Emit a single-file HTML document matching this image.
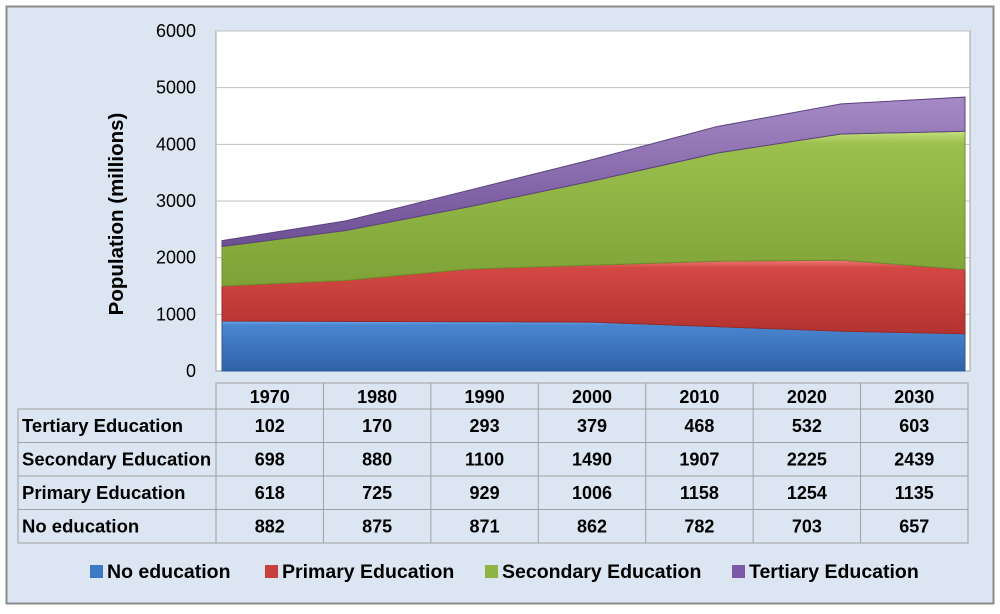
<!DOCTYPE html>
<html><head><meta charset="utf-8"><style>
body{margin:0;width:1000px;height:609px;background:#fff;font-family:"Liberation Sans",sans-serif;}
svg text{font-family:"Liberation Sans",sans-serif;}
</style></head><body>
<svg width="1000" height="609">
<defs>
<linearGradient id="gBlue" x1="0" y1="0" x2="0" y2="1"><stop offset="0" stop-color="#6aaaf0"/><stop offset="0.08" stop-color="#4a86d0"/><stop offset="1" stop-color="#2f62a8"/></linearGradient>
<linearGradient id="gRed" x1="0" y1="0" x2="0" y2="1"><stop offset="0" stop-color="#f27a78"/><stop offset="0.1" stop-color="#d44844"/><stop offset="1" stop-color="#b33230"/></linearGradient>
<linearGradient id="gGreen" x1="0" y1="0" x2="0" y2="1"><stop offset="0" stop-color="#c4e07c"/><stop offset="0.08" stop-color="#9cc04e"/><stop offset="1" stop-color="#7ea236"/></linearGradient>
<linearGradient id="gPurple" x1="0" y1="0" x2="0" y2="1"><stop offset="0" stop-color="#a58ac6"/><stop offset="1" stop-color="#6d4f94"/></linearGradient>
</defs>
<rect x="6.5" y="6.5" width="987" height="597" fill="#dce6f2" stroke="#8c8c8c" stroke-width="2"/>
<rect x="216" y="31" width="754" height="340" fill="#fff" stroke="#a0a0a0"/>
<g id="grid"></g>
<g id="yticks"></g>
<text transform="translate(123,214) rotate(-90)" text-anchor="middle" font-size="20.5" font-weight="bold" fill="#000">Population (millions)</text>
<g id="areas"></g>
<g id="table"></g>
<g id="legend"></g>
</svg>
<script>
const categories=["1970","1980","1990","2000","2010","2020","2030"];
const noEdu=[882,875,871,862,782,703,657];
const primary=[618,725,929,1006,1158,1254,1135];
const secondary=[698,880,1100,1490,1907,2225,2439];
const tertiary=[102,170,293,379,468,532,603];
const yTicks=[0,1000,2000,3000,4000,5000,6000];
const NS="http://www.w3.org/2000/svg";
function el(t,a,p){const e=document.createElementNS(NS,t);for(const k in a)e.setAttribute(k,a[k]);p.appendChild(e);return e;}
const x0=222,x1=965,yb=371,yt=31,ymax=6000;
const X=i=>x0+(x1-x0)*i/(categories.length-1);
const Y=v=>yb-(yb-yt)*v/ymax;
const grid=document.getElementById('grid'),yt_=document.getElementById('yticks');
yTicks.forEach(v=>{
 if(v>0){const l=el('line',{x1:216,x2:970,y1:Y(v),y2:Y(v),stroke:'#c0c0c0'},grid);
 
 }
 const t=el('text',{x:196,y:Y(v)+6,'text-anchor':'end','font-size':18,fill:'#000'},yt_);t.textContent=v;
 
 
});
const series=[["no-education",noEdu,"url(#gBlue)","#2b5a9a"],["primary-education",primary,"url(#gRed)","#9a2a28"],["secondary-education",secondary,"url(#gGreen)","#6e8f2c"],["tertiary-education",tertiary,"url(#gPurple)","#5d4280"]];
const areas=document.getElementById('areas');
let base=categories.map(()=>0);
series.forEach(s=>{
 const top=base.map((b,i)=>b+s[1][i]);
 let d="M"+categories.map((c,i)=>X(i)+","+Y(top[i])).join(" L");
 for(let i=categories.length-1;i>=0;i--)d+=" L"+X(i)+","+Y(base[i]);
 d+="Z";
 const p=el('path',{d:d,fill:s[2],stroke:s[3],'stroke-width':1},areas);
 
 
 base=top;
});
const tb=document.getElementById('table');
const rows=[["Tertiary Education",tertiary],["Secondary Education",secondary],["Primary Education",primary],["No education",noEdu]];
const tx0=216,tcol=(968-216)/7,lx=18,ty0=383,hh=26,rh=33.5;
const st={stroke:'#a0a0a0',fill:'none'};
el('rect',Object.assign({x:tx0,y:ty0,width:968-tx0,height:hh+rh*4},st),tb);
el('rect',Object.assign({x:lx,y:ty0+hh,width:tx0-lx,height:rh*4},st),tb);
for(let i=1;i<7;i++)el('line',{x1:tx0+tcol*i,x2:tx0+tcol*i,y1:ty0,y2:ty0+hh+rh*4,stroke:'#a0a0a0'},tb);
for(let r=0;r<4;r++)el('line',{x1:lx,x2:968,y1:ty0+hh+rh*r,y2:ty0+hh+rh*r,stroke:'#a0a0a0'},tb);
categories.forEach((c,i)=>{const t=el('text',{x:tx0+tcol*(i+0.5),y:ty0+20,'text-anchor':'middle','font-size':18,'font-weight':'bold'},tb);t.textContent=c;
 
 });
rows.forEach((r,ri)=>{
 const cy=ty0+hh+rh*ri+23;
 const t=el('text',{x:lx+4,y:cy,'font-size':18.5,'font-weight':'bold'},tb);t.textContent=r[0];
 
 
 r[1].forEach((v,i)=>{const c=el('text',{x:tx0+tcol*(i+0.5),y:cy,'text-anchor':'middle','font-size':18,'font-weight':'bold'},tb);c.textContent=v;
 
 });
});
const lg=document.getElementById('legend');
const leg=[["No education","#3d78c6",90],["Primary Education","#c8403c",265],["Secondary Education","#8fb444",485],["Tertiary Education","#7a5aa6",732]];
leg.forEach(l=>{
 const g=el('g',{},lg);
 
 
 el('rect',{x:l[2],y:565,width:13,height:13,fill:l[1]},g);
 const t=el('text',{x:l[2]+17,y:578,'font-size':19.5,'font-weight':'bold'},g);t.textContent=l[0];
});
</script>
</body></html>
